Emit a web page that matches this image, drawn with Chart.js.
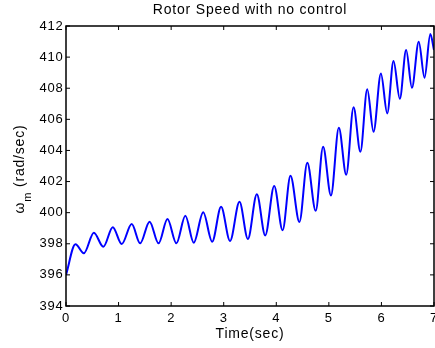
<!DOCTYPE html>
<html>
<head>
<meta charset="utf-8">
<title>Rotor Speed with no control</title>
<script src="https://cdn.jsdelivr.net/npm/chart.js@4.4.1/dist/chart.umd.min.js"></script>
<style>
  html, body { margin: 0; padding: 0; background: #fff; }
  canvas { display: block; }
</style>
</head>
<body>
<canvas id="rotorChart" width="435" height="348"></canvas>
<script>
// time (s) of the start, each peak / trough, and the end
const timeSec = [
  0, 0.18, 0.34, 0.53, 0.71, 0.89, 1.06, 1.25, 1.41, 1.59, 1.76, 1.93, 2.10, 2.27,
  2.43, 2.61, 2.78, 2.95, 3.12, 3.30, 3.46, 3.63, 3.79, 3.96, 4.12, 4.27, 4.44, 4.59,
  4.75, 4.89, 5.04, 5.19, 5.33, 5.47, 5.60, 5.73, 5.85, 5.99, 6.11, 6.23, 6.35, 6.47,
  6.58, 6.71, 6.82, 6.93, 7.0
];
// rotor speed (rad/sec) at those times
const rotorSpeed = [
  396.0, 397.97, 397.39, 398.71, 397.81, 399.06, 397.98, 399.27, 398.03, 399.42, 398.03, 399.59, 398.03, 399.80,
  398.07, 400.02, 398.13, 400.38, 398.18, 400.70, 398.31, 401.18, 398.54, 401.71, 398.87, 402.37, 399.40, 403.21,
  400.12, 404.24, 401.11, 405.46, 402.44, 406.77, 403.92, 407.93, 405.20, 408.95, 406.38, 409.75, 407.32, 410.45,
  408.03, 410.99, 408.67, 411.48, 410.45
];
const xTicks = [0, 1, 2, 3, 4, 5, 6, 7];
const yTicks = [394, 396, 398, 400, 402, 404, 406, 408, 410, 412];

const FONT = "'Liberation Sans', Arial, Helvetica, sans-serif";

// MATLAB style box: frame, inward ticks on all sides, y label with subscript
const axisBox = {
  id: "axisBox",
  beforeDraw(chart) {
    chart.ctx.letterSpacing = "0.8px";
  },
  afterDraw(chart) {
    const { ctx, chartArea: a, scales } = chart;
    ctx.save();
    ctx.strokeStyle = "#000";
    ctx.lineWidth = 1.5;
    ctx.strokeRect(a.left, a.top, a.right - a.left, a.bottom - a.top);

    ctx.lineWidth = 1;
    ctx.beginPath();
    xTicks.forEach(v => {
      const x = scales.x.getPixelForValue(v);
      ctx.moveTo(x, a.bottom); ctx.lineTo(x, a.bottom - 4);
      ctx.moveTo(x, a.top); ctx.lineTo(x, a.top + 4);
    });
    yTicks.forEach(v => {
      const y = scales.y.getPixelForValue(v);
      ctx.moveTo(a.left, y); ctx.lineTo(a.left + 4, y);
      ctx.moveTo(a.right, y); ctx.lineTo(a.right - 4, y);
    });
    ctx.stroke();

    const main = "14px " + FONT;
    const sub = "11px " + FONT;
    ctx.font = main;
    const wOmega = ctx.measureText("ω").width;
    const wRest = ctx.measureText(" (rad/sec)").width;
    ctx.font = sub;
    const wSub = ctx.measureText("m").width;
    const total = wOmega + wSub + wRest;

    ctx.fillStyle = "#000";
    ctx.textAlign = "left";
    ctx.textBaseline = "alphabetic";
    ctx.translate(24, (a.top + a.bottom) / 2 + 3);
    ctx.rotate(-Math.PI / 2);
    let x = -total / 2;
    ctx.font = main;
    ctx.fillText("ω", x, 0);
    x += wOmega;
    ctx.font = sub;
    ctx.fillText("m", x, 7);
    x += wSub;
    ctx.font = main;
    ctx.fillText(" (rad/sec)", x, 0);
    ctx.restore();
  }
};

const ctx = document.getElementById("rotorChart").getContext("2d");
new Chart(ctx, {
  type: "line",
  data: {
    datasets: [{
      data: timeSec.map((t, i) => ({ x: t, y: rotorSpeed[i] })),
      borderColor: "#0000ff",
      borderWidth: 2,
      pointRadius: 0,
      fill: false,
      cubicInterpolationMode: "monotone"
    }]
  },
  options: {
    responsive: false,
    animation: false,
    devicePixelRatio: 1,
    layout: { padding: { left: 0, right: 1, top: 0, bottom: 0 } },
    plugins: {
      legend: { display: false },
      tooltip: { enabled: false },
      title: {
        display: true,
        text: "Rotor Speed with no control",
        fullSize: false,
        color: "#000",
        font: { family: FONT, size: 14, weight: "normal" },
        padding: { top: 2.1, bottom: 7.1 }
      }
    },
    scales: {
      x: {
        type: "linear",
        min: 0,
        max: 7,
        grid: { display: false, drawTicks: false },
        border: { display: false },
        afterBuildTicks: s => { s.ticks = xTicks.map(v => ({ value: v })); },
        afterFit: s => { s.height = 42; s.paddingLeft = 0; s.paddingRight = 0; },
        ticks: {
          autoSkip: false,
          maxRotation: 0,
          padding: 5,
          color: "#000",
          font: { family: FONT, size: 13 }
        },
        title: {
          display: true,
          text: "Time(sec)",
          color: "#000",
          font: { family: FONT, size: 14 },
          padding: { top: 0, bottom: 5.6 }
        }
      },
      y: {
        min: 394,
        max: 412,
        grid: { display: false, drawTicks: false },
        border: { display: false },
        afterBuildTicks: s => { s.ticks = yTicks.map(v => ({ value: v })); },
        afterFit: s => { s.width = 66; s.paddingTop = 0; s.paddingBottom = 0; },
        ticks: {
          padding: 2.5,
          color: "#000",
          font: { family: FONT, size: 13 }
        }
      }
    }
  },
  plugins: [axisBox]
});
</script>
</body>
</html>
